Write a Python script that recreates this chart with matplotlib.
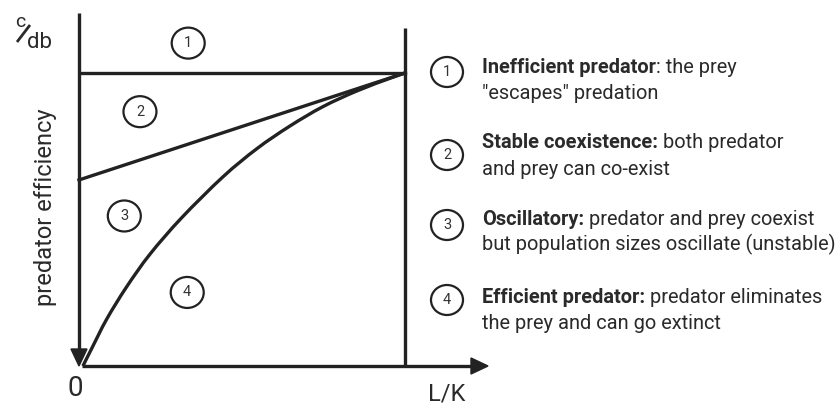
import matplotlib
matplotlib.use("Agg")
import matplotlib.pyplot as plt
from matplotlib.patches import Ellipse, Polygon, PathPatch
from matplotlib.path import Path

plt.rcParams['font.family'] = ['Roboto', 'DejaVu Sans']

# ---- data (diagram units: x = L/K scaled 0..1, y = c/db scaled 0..1) ----
top_x = [0.01, 1.0]
top_y = [1.0, 1.0]
stable_x = [0.0, 1.0]
stable_y = [0.635, 1.0]
curve_x = [0.012, 0.040, 0.085, 0.146, 0.218, 0.315, 0.442, 0.546, 0.647, 0.748, 0.853, 0.954, 1.0]
curve_y = [0.000, 0.062, 0.160, 0.270, 0.382, 0.506, 0.646, 0.742, 0.819, 0.885, 0.939, 0.982, 1.0]
region_labels = ['1', '2', '3', '4']
region_x = [0.335, 0.187, 0.139, 0.332]
region_y = [1.102, 0.868, 0.512, 0.251]

legend_bold = ['Inefficient predator', 'Stable coexistence:', 'Oscillatory:', 'Efficient predator:']
legend_rest = [': the prey', ' both predator', ' predator and prey coexist', ' predator eliminates']
legend_line2 = ['"escapes" predation', 'and prey can co-exist',
                'but population sizes oscillate (unstable)', 'the prey and can go extinct']

W, H = 840, 408
fig = plt.figure(figsize=(8.4, 4.08), dpi=100)

# diagram axes: (0,0) at pixel (79,366), (1,1) at pixel (405,73)
x0p, x1p, y0p, y1p = 79, 405, 366, 73
ax = fig.add_axes([x0p / W, (H - y0p) / H, (x1p - x0p) / W, (y0p - y1p) / H])
ax.set_xlim(0, 1)
ax.set_ylim(0, 1)
ax.axis('off')

sx = 1.0 / (x1p - x0p)   # data per pixel in x
sy = 1.0 / (y0p - y1p)   # data per pixel in y
lc = '#222222'
lw = 2.4

# y-axis (downward arrow)
ax.plot([0, 0], [(y0p - 13) * sy, 17 * sy], color=lc, lw=lw, clip_on=False, solid_capstyle='butt')
ax.add_patch(Polygon([[0, 0], [-8 * sx, 17 * sy], [8 * sx, 17 * sy]], closed=True,
                     color=lc, clip_on=False))
# x-axis (right arrow)
ax.plot([3 * sx, (488 - 17 - x0p) * sx], [0, 0], color=lc, lw=lw, clip_on=False, solid_capstyle='butt')
tipx = (488 - x0p) * sx
ax.add_patch(Polygon([[tipx, 0], [tipx - 17 * sx, 8 * sy], [tipx - 17 * sx, -8 * sy]], closed=True,
                     color=lc, clip_on=False))
# right vertical line at L/K
ax.plot([1, 1], [0, (y0p - 28) * sy], color=lc, lw=lw, clip_on=False, solid_capstyle='butt')

# boundaries
ax.plot(top_x, top_y, color=lc, lw=lw, clip_on=False)
ax.plot(stable_x, stable_y, color=lc, lw=lw, clip_on=False)

# smooth curve through the read points (Catmull-Rom rendered as Bezier segments)
pts = list(zip(curve_x, curve_y))
verts = [pts[0]]
codes = [Path.MOVETO]
n = len(pts)
for i in range(n - 1):
    p0 = pts[i - 1] if i > 0 else pts[i]
    p1 = pts[i]
    p2 = pts[i + 1]
    p3 = pts[i + 2] if i + 2 < n else pts[i + 1]
    c1 = (p1[0] + (p2[0] - p0[0]) / 6, p1[1] + (p2[1] - p0[1]) / 6)
    c2 = (p2[0] - (p3[0] - p1[0]) / 6, p2[1] - (p3[1] - p1[1]) / 6)
    verts += [c1, c2, p2]
    codes += [Path.CURVE4] * 3
ax.add_patch(PathPatch(Path(verts, codes), fill=False, ec=lc, lw=lw, clip_on=False))

# region circles
for lab, rx, ry in zip(region_labels, region_x, region_y):
    ax.add_patch(Ellipse((rx, ry), 33 * sx, 31 * sy, fill=False, ec=lc, lw=1.6, clip_on=False))
    ax.text(rx, ry, lab, ha='center', va='center', fontsize=10.5, color='#333333')

# overlay pixel axes for text
tx = fig.add_axes([0, 0, 1, 1], facecolor='none')
tx.set_xlim(0, W)
tx.set_ylim(H, 0)
tx.axis('off')
tc = '#2a2a2a'

tx.text(46, 207, 'predator efficiency', rotation=90, ha='center', va='center',
        fontsize=17, color=tc)
tx.text(75, 388, '0', ha='center', va='center', fontsize=20, color=tc)
tx.text(447, 394, 'L/K', ha='center', va='center', fontsize=17, color=tc)
# c/db
tx.text(20, 27, 'c', ha='center', va='baseline', fontsize=14, color=tc)
tx.plot([17, 30], [42, 25], color=tc, lw=2.0, solid_capstyle='butt')
tx.text(39, 48, 'db', ha='center', va='baseline', fontsize=16, color=tc)

# legend
fig.canvas.draw()
renderer = fig.canvas.get_renderer()
circ_y = [72, 155, 225, 300]
base1 = [73, 148, 225, 303]
base2 = [99, 175, 250, 329]
text_x = 482
fs = 14.4
for i in range(4):
    tx.add_patch(Ellipse((447, circ_y[i]), 32, 30, fill=False, ec=lc, lw=1.6))
    tx.text(447, circ_y[i], region_labels[i], ha='center', va='center', fontsize=10.5, color='#333333')
    tb = tx.text(text_x, base1[i], legend_bold[i], ha='left', va='baseline', fontsize=fs,
                 fontweight='bold', color=tc)
    wpx = tb.get_window_extent(renderer).width
    tx.text(text_x + wpx, base1[i], legend_rest[i], ha='left', va='baseline', fontsize=fs, color=tc)
    tx.text(text_x, base2[i], legend_line2[i], ha='left', va='baseline', fontsize=fs, color=tc)

fig.savefig('out.png', dpi=100)
